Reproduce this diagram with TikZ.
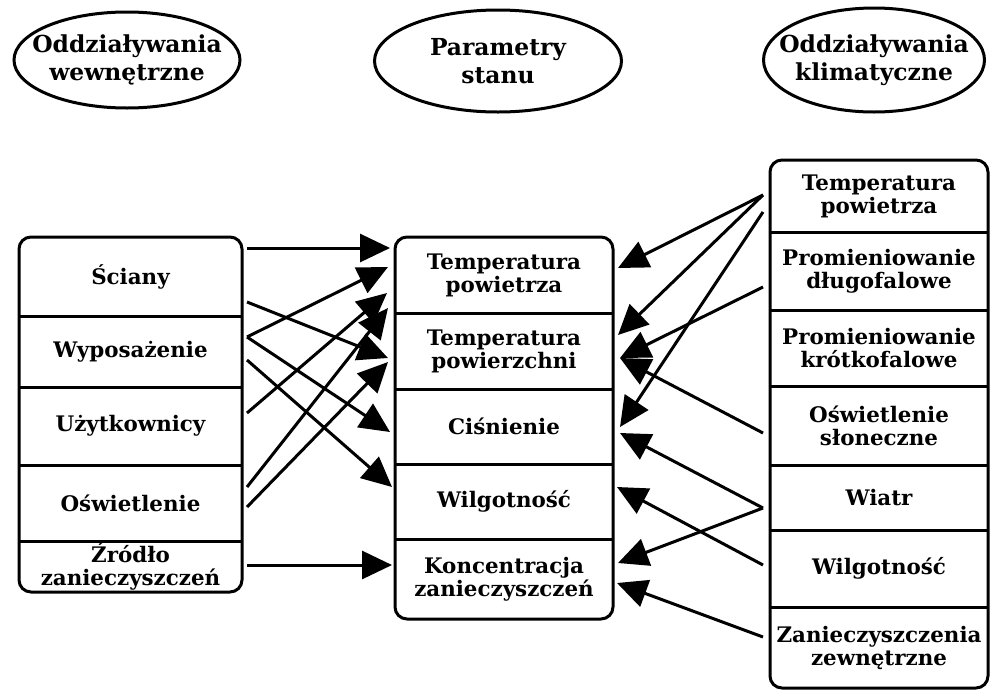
\documentclass[tikz,border=0pt]{standalone}
\usepackage{fontspec}
\setmainfont{DejaVu Serif}
\usetikzlibrary{arrows.meta,calc}

\begin{document}
\begin{tikzpicture}[x=0.5pt, y=-0.5pt, line width=1.5pt]
  \tikzset{
    title/.style={inner sep=0pt, align=center, font=\fontsize{11.7}{14}\selectfont\bfseries},
    cell/.style={inner sep=0pt, outer sep=0pt, align=center, minimum width=109pt, font=\fontsize{10.7}{11.5}\selectfont\bfseries},
    flow/.style={-{Triangle[length=15pt, width=14pt]}}
  }
  \useasboundingbox (0,0) rectangle (990,691);

  % Titles
  \node[title] (inner)   at (127,60) {Oddziaływania\\wewnętrzne};
  \node[title] (state)   at (498,61) {Parametry\\stanu};
  \node[title] (climate) at (874,60) {Oddziaływania\\klimatyczne};
  \draw (inner.center)   ellipse [x radius=113,   y radius=48];
  \draw (state.center)   ellipse [x radius=123.5, y radius=51];
  \draw (climate.center) ellipse [x radius=110.5, y radius=52];

  % Left column: internal influences
  \node[cell, minimum width=111.5pt, minimum height=39.5pt] (l1) at (130.5,276.5) {Ściany};
  \node[cell, minimum width=111.5pt, minimum height=35.5pt] (l2) at (130.5,351.5) {Wyposażenie};
  \node[cell, minimum width=111.5pt, minimum height=39pt]   (l3) at (130.5,426)   {Użytkownicy};
  \node[cell, minimum width=111.5pt, minimum height=38pt]   (l4) at (130.5,503)   {Oświetlenie};
  \node[cell, minimum width=111.5pt, minimum height=25.5pt] (l5) at (130.5,566.5) {Źródło\\zanieczyszczeń};
  \draw[rounded corners=6pt] (l1.north west) rectangle (l5.south east);
  \draw (l1.south west) -- (l1.south east) (l2.south west) -- (l2.south east)
        (l3.south west) -- (l3.south east) (l4.south west) -- (l4.south east);

  % Middle column: state parameters
  \node[cell, minimum height=38pt]   (m1) at (504,275)   {Temperatura\\powietrza};
  \node[cell, minimum height=38pt]   (m2) at (504,351)   {Temperatura\\powierzchni};
  \node[cell, minimum height=37.5pt] (m3) at (504,426.5) {Ciśnienie};
  \node[cell, minimum height=37.5pt] (m4) at (504,501.5) {Wilgotność};
  \node[cell, minimum height=40pt]   (m5) at (504,579)   {Koncentracja\\zanieczyszczeń};
  \draw[rounded corners=6pt] (m1.north west) rectangle (m5.south east);
  \draw (m1.south west) -- (m1.south east) (m2.south west) -- (m2.south east)
        (m3.south west) -- (m3.south east) (m4.south west) -- (m4.south east);

  % Right column: climatic influences
  \node[cell, minimum height=36pt]   (r1) at (879,196)   {Temperatura\\powietrza};
  \node[cell, minimum height=39pt]   (r2) at (879,271)   {Promieniowanie\\długofalowe};
  \node[cell, minimum height=38pt]   (r3) at (879,348)   {Promieniowanie\\krótkofalowe};
  \node[cell, minimum height=39.5pt] (r4) at (879,425.5) {Oświetlenie\\słoneczne};
  \node[cell, minimum height=32.5pt] (r5) at (879,497.5) {Wiatr};
  \node[cell, minimum height=38.5pt] (r6) at (879,568.5) {Wilgotność};
  \node[cell, minimum height=40.5pt] (r7) at (879,647.5) {Zanieczyszczenia\\zewnętrzne};
  \draw[rounded corners=6pt] (r1.north west) rectangle (r7.south east);
  \draw (r1.south west) -- (r1.south east) (r2.south west) -- (r2.south east)
        (r3.south west) -- (r3.south east) (r4.south west) -- (r4.south east)
        (r5.south west) -- (r5.south east) (r6.south west) -- (r6.south east);

  % Internal influences -> state parameters
  \draw[flow] ($(l1.east)+(5,-28.5)$) -- ($(m1.west)+(-5,-27)$);
  \draw[flow] ($(l2.east)+(5,-14.5)$) -- ($(m1.west)+(-7,-8)$);
  \draw[flow] ($(l3.east)+(5,-13)$)   -- ($(m1.west)+(-8,18)$);
  \draw[flow] ($(l4.east)+(5,-16)$)   -- ($(m1.west)+(-7,33)$);
  \draw[flow] ($(l1.east)+(5,25.5)$)  -- ($(m2.west)+(-7,7)$);
  \draw[flow] ($(l4.east)+(5,4)$)     -- ($(m2.west)+(-7,11)$);
  \draw[flow] ($(l2.east)+(5,-14.5)$) -- ($(m3.west)+(-5,5.5)$);
  \draw[flow] ($(l2.east)+(5,8.5)$)   -- ($(m4.west)+(-3,-14.5)$);
  \draw[flow] ($(l5.east)+(5,-1.5)$)  -- ($(m5.west)+(-3,-14)$);

  % Climatic influences -> state parameters
  \draw[flow] ($(r1.west)+(-7,-1)$)   -- ($(m1.east)+(5,-7)$);
  \draw[flow] ($(r1.west)+(-7,-1)$)   -- ($(m2.east)+(5,-16)$);
  \draw[flow] ($(r1.west)+(-7,16)$)   -- ($(m3.east)+(7,0.5)$);
  \draw[flow] ($(r2.west)+(-7,16)$)   -- ($(m2.east)+(7,7)$);
  \draw[flow] ($(r4.west)+(-7,7.5)$)  -- ($(m2.east)+(7,7)$);
  \draw[flow] ($(r5.west)+(-7,10.5)$) -- ($(m3.east)+(7,6.5)$);
  \draw[flow] ($(r5.west)+(-7,10.5)$) -- ($(m5.east)+(5,-16)$);
  \draw[flow] ($(r6.west)+(-7,-3.5)$) -- ($(m4.east)+(4,-14.5)$);
  \draw[flow] ($(r7.west)+(-7,-10.5)$) -- ($(m5.east)+(4,4)$);
\end{tikzpicture}
\end{document}
